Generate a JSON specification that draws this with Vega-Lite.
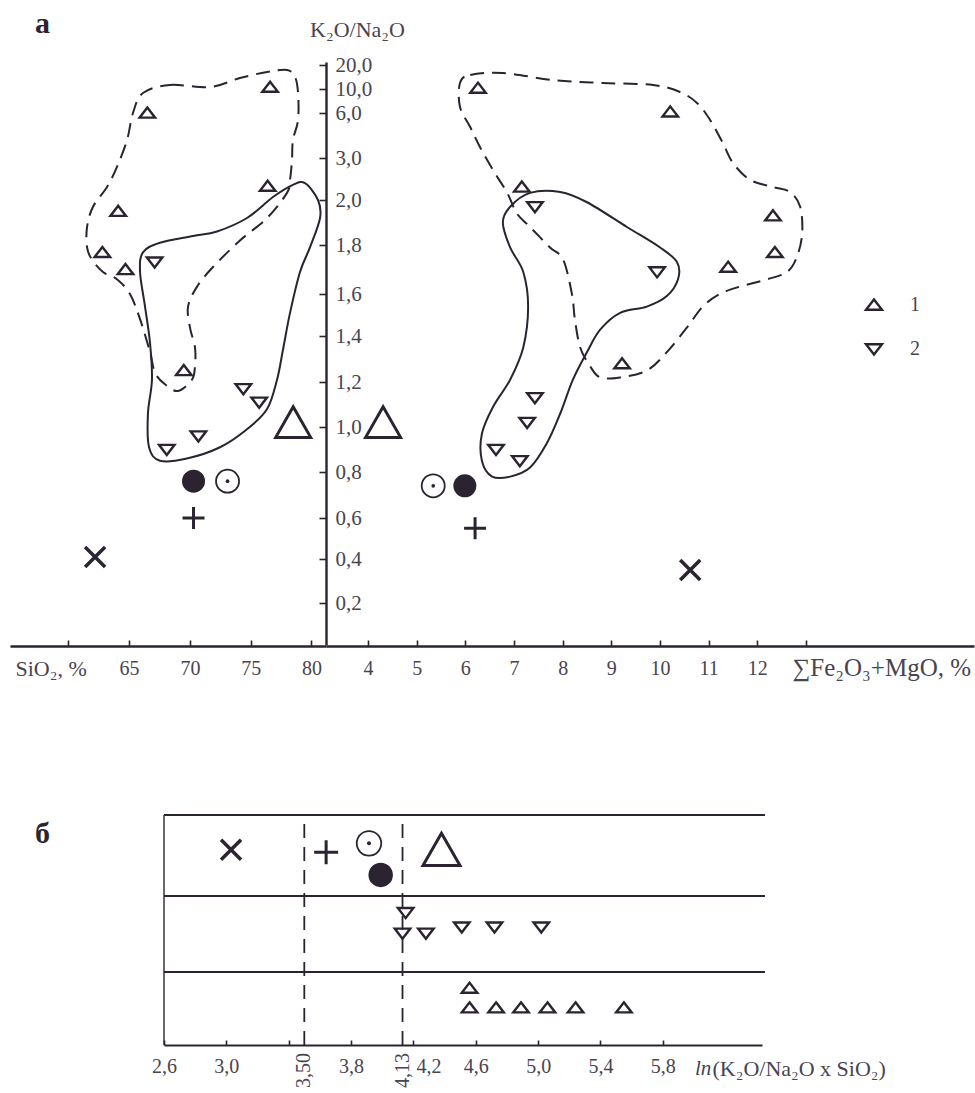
{
  "$schema": "https://vega.github.io/schema/vega-lite/v6.json",
  "width": 975,
  "height": 1093,
  "autosize": {"type": "none"},
  "padding": 0,
  "background": "#ffffff",
  "config": {
    "view": {"stroke": null},
    "font": "Liberation Serif",
    "axis": {
      "grid": false,
      "domainColor": "#2b2430",
      "domainWidth": 2.4,
      "tickColor": "#2b2430",
      "tickWidth": 1.6,
      "labelColor": "#4a4450",
      "labelFont": "Liberation Serif",
      "labelFontSize": 20,
      "titleColor": "#4a4450",
      "titleFont": "Liberation Serif",
      "titleFontSize": 22,
      "titleFontWeight": "normal",
      "labelFlush": false,
      "labelOverlap": false
    },
    "point": {"opacity": 1, "color": "#2b2430", "filled": false, "strokeWidth": 2.4},
    "line": {"color": "#2b2430", "strokeWidth": 2},
    "rule": {"color": "#2b2430", "strokeWidth": 2},
    "text": {"color": "#2b2430", "font": "Liberation Serif"}
  },
  "layer": [
    {
      "data": {
        "values": [
          {"kind": "tri", "series": "1", "x": 66.5, "y": 6.0},
          {"kind": "tri", "series": "1", "x": 76.6, "y": 10.8},
          {"kind": "tri", "series": "1", "x": 76.4, "y": 2.33},
          {"kind": "tri", "series": "1", "x": 64.1, "y": 1.95},
          {"kind": "tri", "series": "1", "x": 62.8, "y": 1.77},
          {"kind": "tri", "series": "1", "x": 64.7, "y": 1.70},
          {"kind": "tri", "series": "1", "x": 69.5, "y": 1.25},
          {"kind": "tri", "series": "2", "x": 67.1, "y": 1.73},
          {"kind": "tri", "series": "2", "x": 74.4, "y": 1.17},
          {"kind": "tri", "series": "2", "x": 75.7, "y": 1.11},
          {"kind": "tri", "series": "2", "x": 70.7, "y": 0.96},
          {"kind": "tri", "series": "2", "x": 68.1, "y": 0.90},
          {"kind": "big", "x": 78.5, "y": 1.02},
          {"kind": "dot", "x": 70.3, "y": 0.76},
          {"kind": "odot", "x": 73.1, "y": 0.76},
          {"kind": "plus", "x": 70.3, "y": 0.60},
          {"kind": "cross", "x": 62.2, "y": 0.41},
          {"kind": "letter", "x": 57.26, "y": 33.3, "t": "а"},
          {"c": "d", "i": 1, "x": 66.14, "y": 9.33},
          {"c": "d", "i": 2, "x": 68.36, "y": 11.67},
          {"c": "d", "i": 3, "x": 71.66, "y": 10.83},
          {"c": "d", "i": 4, "x": 74.12, "y": 14.58},
          {"c": "d", "i": 5, "x": 76.35, "y": 17.08},
          {"c": "d", "i": 6, "x": 77.99, "y": 17.92},
          {"c": "d", "i": 7, "x": 78.65, "y": 15.0},
          {"c": "d", "i": 8, "x": 78.9, "y": 9.33},
          {"c": "d", "i": 9, "x": 78.9, "y": 5.53},
          {"c": "d", "i": 10, "x": 78.48, "y": 4.2},
          {"c": "d", "i": 11, "x": 78.4, "y": 2.95},
          {"c": "d", "i": 12, "x": 78.24, "y": 2.48},
          {"c": "d", "i": 13, "x": 77.99, "y": 2.17},
          {"c": "d", "i": 14, "x": 76.35, "y": 1.92},
          {"c": "d", "i": 15, "x": 74.12, "y": 1.82},
          {"c": "d", "i": 16, "x": 71.9, "y": 1.71},
          {"c": "d", "i": 17, "x": 70.59, "y": 1.63},
          {"c": "d", "i": 18, "x": 69.85, "y": 1.54},
          {"c": "d", "i": 19, "x": 70.01, "y": 1.44},
          {"c": "d", "i": 20, "x": 70.42, "y": 1.35},
          {"c": "d", "i": 21, "x": 70.42, "y": 1.27},
          {"c": "d", "i": 22, "x": 70.17, "y": 1.21},
          {"c": "d", "i": 23, "x": 69.02, "y": 1.16},
          {"c": "d", "i": 24, "x": 67.95, "y": 1.19},
          {"c": "d", "i": 25, "x": 67.13, "y": 1.24},
          {"c": "d", "i": 26, "x": 66.72, "y": 1.33},
          {"c": "d", "i": 27, "x": 65.9, "y": 1.48},
          {"c": "d", "i": 28, "x": 65.07, "y": 1.6},
          {"c": "d", "i": 29, "x": 64.0, "y": 1.66},
          {"c": "d", "i": 30, "x": 62.85, "y": 1.69},
          {"c": "d", "i": 31, "x": 61.95, "y": 1.74},
          {"c": "d", "i": 32, "x": 61.54, "y": 1.79},
          {"c": "d", "i": 33, "x": 61.54, "y": 1.88},
          {"c": "d", "i": 34, "x": 62.03, "y": 1.97},
          {"c": "d", "i": 35, "x": 63.18, "y": 2.31},
          {"c": "d", "i": 36, "x": 64.0, "y": 2.79},
          {"c": "d", "i": 37, "x": 64.83, "y": 4.2},
          {"c": "d", "i": 38, "x": 65.32, "y": 6.0},
          {"c": "s", "i": 1, "x": 79.47, "y": 2.4},
          {"c": "s", "i": 2, "x": 80.54, "y": 2.0},
          {"c": "s", "i": 3, "x": 80.71, "y": 1.92},
          {"c": "s", "i": 4, "x": 79.88, "y": 1.79},
          {"c": "s", "i": 5, "x": 79.06, "y": 1.69},
          {"c": "s", "i": 6, "x": 78.24, "y": 1.51},
          {"c": "s", "i": 7, "x": 77.66, "y": 1.34},
          {"c": "s", "i": 8, "x": 77.17, "y": 1.21},
          {"c": "s", "i": 9, "x": 76.35, "y": 1.08},
          {"c": "s", "i": 10, "x": 74.7, "y": 0.99},
          {"c": "s", "i": 11, "x": 72.48, "y": 0.91},
          {"c": "s", "i": 12, "x": 69.76, "y": 0.86},
          {"c": "s", "i": 13, "x": 67.54, "y": 0.85},
          {"c": "s", "i": 14, "x": 66.64, "y": 0.91},
          {"c": "s", "i": 15, "x": 66.55, "y": 1.06},
          {"c": "s", "i": 16, "x": 66.88, "y": 1.21},
          {"c": "s", "i": 17, "x": 66.72, "y": 1.37},
          {"c": "s", "i": 18, "x": 66.31, "y": 1.54},
          {"c": "s", "i": 19, "x": 65.9, "y": 1.69},
          {"c": "s", "i": 20, "x": 66.14, "y": 1.77},
          {"c": "s", "i": 21, "x": 67.54, "y": 1.81},
          {"c": "s", "i": 22, "x": 70.26, "y": 1.84},
          {"c": "s", "i": 23, "x": 72.23, "y": 1.86},
          {"c": "s", "i": 24, "x": 74.7, "y": 1.92},
          {"c": "s", "i": 25, "x": 76.84, "y": 2.07},
          {"c": "s", "i": 26, "x": 78.48, "y": 2.36}
        ]
      },
      "encoding": {
        "x": {
          "field": "x", "type": "quantitative",
          "scale": {"domain": [55.2, 81.2], "range": [10, 326], "nice": false, "zero": false},
          "axis": {
            "orient": "bottom", "offset": -447,
            "values": [60, 65, 70, 75, 80], "format": "d",
            "labelExpr": "datum.value == 60 ? '' : datum.label",
            "tickSize": -6, "labelPadding": 18,
            "title": "SiO₂, %", "titleX": 15, "titleY": 29,
            "titleAlign": "left", "titleBaseline": "alphabetic"
          }
        },
        "y": {
          "field": "y", "type": "quantitative",
          "scale": {
            "domain": [0, 0.2, 0.4, 0.6, 0.8, 1.0, 1.2, 1.4, 1.6, 1.8, 2.0, 3, 6, 10, 20, 21.25],
            "range": [645, 603, 559, 518, 472, 427, 382, 336, 294, 245, 200, 158, 113, 89, 65, 62],
            "nice": false, "zero": false
          },
          "axis": {
            "orient": "right", "offset": -649,
            "values": [0.2, 0.4, 0.6, 0.8, 1.0, 1.2, 1.4, 1.6, 1.8, 2.0, 3, 6, 10, 20],
            "labelExpr": "replace(format(datum.value, '.1f'), '.', ',')",
            "tickSize": -7, "labelPadding": 16, "labelFontSize": 21,
            "labelAlign": "left", "labelBaseline": "middle",
            "title": "K₂O/Na₂O", "titleAngle": 0, "titleX": 31, "titleY": 36,
            "titleAlign": "center", "titleBaseline": "alphabetic"
          }
        }
      },
      "layer": [
        {
          "transform": [{"filter": "datum.c == 'd'"}],
          "mark": {"type": "line", "interpolate": "cardinal-closed", "strokeDash": [14, 8]},
          "encoding": {"order": {"field": "i", "type": "quantitative"}}
        },
        {
          "transform": [{"filter": "datum.c == 's'"}],
          "mark": {"type": "line", "interpolate": "cardinal-closed"},
          "encoding": {"order": {"field": "i", "type": "quantitative"}}
        },
        {
          "transform": [{"filter": "datum.kind == 'tri'"}],
          "mark": {"type": "point", "size": 240},
          "encoding": {
            "shape": {
              "field": "series", "type": "nominal",
              "scale": {"domain": ["1", "2"], "range": ["M0,-0.7L1,0.6L-1,0.6Z", "M-1,-0.6L1,-0.6L0,0.7Z"]},
              "legend": {
                "orient": "none", "legendX": 864, "legendY": 295, "title": null,
                "padding": 0, "rowPadding": 24, "symbolSize": 256,
                "symbolStrokeWidth": 2.6, "symbolStrokeColor": "#2b2430", "symbolFillColor": "transparent",
                "labelFont": "Liberation Serif", "labelFontSize": 20, "labelColor": "#4a4450", "labelOffset": 26
              }
            }
          }
        },
        {
          "transform": [{"filter": "datum.kind == 'big'"}],
          "mark": {"type": "point", "shape": "M0,-0.9L1,0.85L-1,0.85Z", "size": 1225, "strokeWidth": 3}
        },
        {
          "transform": [{"filter": "datum.kind == 'dot'"}],
          "mark": {"type": "point", "shape": "circle", "filled": true, "size": 530}
        },
        {
          "transform": [{"filter": "datum.kind == 'odot'"}],
          "mark": {"type": "point", "shape": "circle", "size": 530, "strokeWidth": 1.8}
        },
        {
          "transform": [{"filter": "datum.kind == 'odot'"}],
          "mark": {"type": "point", "shape": "circle", "filled": true, "size": 14}
        },
        {
          "transform": [{"filter": "datum.kind == 'plus'"}],
          "mark": {"type": "point", "shape": "M-1,0L1,0M0,-1L0,1", "size": 484, "strokeWidth": 3}
        },
        {
          "transform": [{"filter": "datum.kind == 'cross'"}],
          "mark": {"type": "point", "shape": "M-1,-1L1,1M-1,1L1,-1", "size": 400, "strokeWidth": 3.5}
        },
        {
          "transform": [{"filter": "datum.kind == 'letter'"}],
          "mark": {"type": "text", "fontSize": 30, "fontWeight": "bold", "align": "left", "baseline": "alphabetic"},
          "encoding": {"text": {"field": "t"}}
        }
      ]
    },
    {
      "data": {
        "values": [
          {"kind": "tri", "series": "1", "x": 6.26, "y": 10.4},
          {"kind": "tri", "series": "1", "x": 10.21, "y": 6.2},
          {"kind": "tri", "series": "1", "x": 7.16, "y": 2.31},
          {"kind": "tri", "series": "1", "x": 12.32, "y": 1.93},
          {"kind": "tri", "series": "1", "x": 12.36, "y": 1.77},
          {"kind": "tri", "series": "1", "x": 11.4, "y": 1.71},
          {"kind": "tri", "series": "1", "x": 9.22, "y": 1.28},
          {"kind": "tri", "series": "2", "x": 7.43, "y": 1.97},
          {"kind": "tri", "series": "2", "x": 9.94, "y": 1.69},
          {"kind": "tri", "series": "2", "x": 7.43, "y": 1.13},
          {"kind": "tri", "series": "2", "x": 7.27, "y": 1.02},
          {"kind": "tri", "series": "2", "x": 6.63, "y": 0.9},
          {"kind": "tri", "series": "2", "x": 7.12, "y": 0.85},
          {"kind": "big", "x": 4.31, "y": 1.02},
          {"kind": "odot", "x": 5.34, "y": 0.74},
          {"kind": "dot", "x": 5.99, "y": 0.74},
          {"kind": "plus", "x": 6.2, "y": 0.55},
          {"kind": "cross", "x": 10.62, "y": 0.35},
          {"c": "d", "i": 1, "x": 5.89, "y": 12.5},
          {"c": "d", "i": 2, "x": 6.1, "y": 15.83},
          {"c": "d", "i": 3, "x": 6.77, "y": 16.67},
          {"c": "d", "i": 4, "x": 7.8, "y": 13.75},
          {"c": "d", "i": 5, "x": 8.83, "y": 12.5},
          {"c": "d", "i": 6, "x": 9.86, "y": 11.67},
          {"c": "d", "i": 7, "x": 10.41, "y": 9.5},
          {"c": "d", "i": 8, "x": 10.76, "y": 7.67},
          {"c": "d", "i": 9, "x": 11.03, "y": 5.53},
          {"c": "d", "i": 10, "x": 11.29, "y": 4.0},
          {"c": "d", "i": 11, "x": 11.5, "y": 2.88},
          {"c": "d", "i": 12, "x": 11.85, "y": 2.48},
          {"c": "d", "i": 13, "x": 12.32, "y": 2.31},
          {"c": "d", "i": 14, "x": 12.67, "y": 2.19},
          {"c": "d", "i": 15, "x": 12.88, "y": 1.97},
          {"c": "d", "i": 16, "x": 12.92, "y": 1.85},
          {"c": "d", "i": 17, "x": 12.81, "y": 1.75},
          {"c": "d", "i": 18, "x": 12.61, "y": 1.69},
          {"c": "d", "i": 19, "x": 12.2, "y": 1.66},
          {"c": "d", "i": 20, "x": 11.64, "y": 1.63},
          {"c": "d", "i": 21, "x": 11.23, "y": 1.6},
          {"c": "d", "i": 22, "x": 10.88, "y": 1.54},
          {"c": "d", "i": 23, "x": 10.55, "y": 1.44},
          {"c": "d", "i": 24, "x": 10.14, "y": 1.33},
          {"c": "d", "i": 25, "x": 9.73, "y": 1.25},
          {"c": "d", "i": 26, "x": 9.18, "y": 1.22},
          {"c": "d", "i": 27, "x": 8.77, "y": 1.22},
          {"c": "d", "i": 28, "x": 8.56, "y": 1.27},
          {"c": "d", "i": 29, "x": 8.36, "y": 1.35},
          {"c": "d", "i": 30, "x": 8.25, "y": 1.48},
          {"c": "d", "i": 31, "x": 8.19, "y": 1.6},
          {"c": "d", "i": 32, "x": 8.01, "y": 1.74},
          {"c": "d", "i": 33, "x": 7.74, "y": 1.79},
          {"c": "d", "i": 34, "x": 7.33, "y": 1.88},
          {"c": "d", "i": 35, "x": 7.06, "y": 1.94},
          {"c": "d", "i": 36, "x": 6.86, "y": 2.17},
          {"c": "d", "i": 37, "x": 6.57, "y": 2.71},
          {"c": "d", "i": 38, "x": 6.3, "y": 3.73},
          {"c": "d", "i": 39, "x": 6.1, "y": 5.07},
          {"c": "d", "i": 40, "x": 5.89, "y": 7.0},
          {"c": "s", "i": 1, "x": 7.33, "y": 2.17},
          {"c": "s", "i": 2, "x": 7.95, "y": 2.19},
          {"c": "s", "i": 3, "x": 8.5, "y": 1.99},
          {"c": "s", "i": 4, "x": 9.32, "y": 1.88},
          {"c": "s", "i": 5, "x": 10.0, "y": 1.79},
          {"c": "s", "i": 6, "x": 10.35, "y": 1.73},
          {"c": "s", "i": 7, "x": 10.37, "y": 1.66},
          {"c": "s", "i": 8, "x": 10.14, "y": 1.59},
          {"c": "s", "i": 9, "x": 9.73, "y": 1.54},
          {"c": "s", "i": 10, "x": 9.18, "y": 1.51},
          {"c": "s", "i": 11, "x": 8.77, "y": 1.43},
          {"c": "s", "i": 12, "x": 8.5, "y": 1.33},
          {"c": "s", "i": 13, "x": 8.21, "y": 1.21},
          {"c": "s", "i": 14, "x": 7.95, "y": 1.06},
          {"c": "s", "i": 15, "x": 7.68, "y": 0.93},
          {"c": "s", "i": 16, "x": 7.33, "y": 0.82},
          {"c": "s", "i": 17, "x": 6.92, "y": 0.78},
          {"c": "s", "i": 18, "x": 6.55, "y": 0.78},
          {"c": "s", "i": 19, "x": 6.34, "y": 0.85},
          {"c": "s", "i": 20, "x": 6.34, "y": 0.97},
          {"c": "s", "i": 21, "x": 6.57, "y": 1.09},
          {"c": "s", "i": 22, "x": 6.92, "y": 1.21},
          {"c": "s", "i": 23, "x": 7.19, "y": 1.35},
          {"c": "s", "i": 24, "x": 7.29, "y": 1.54},
          {"c": "s", "i": 25, "x": 7.19, "y": 1.69},
          {"c": "s", "i": 26, "x": 6.92, "y": 1.79},
          {"c": "s", "i": 27, "x": 6.77, "y": 1.9},
          {"c": "s", "i": 28, "x": 6.92, "y": 1.97}
        ]
      },
      "encoding": {
        "x": {
          "field": "x", "type": "quantitative",
          "scale": {"domain": [3.137, 16.451], "range": [326, 974], "nice": false, "zero": false},
          "axis": {
            "orient": "bottom", "offset": -447,
            "values": [4, 5, 6, 7, 8, 9, 10, 11, 12, 13], "format": "d",
            "labelExpr": "datum.value == 13 ? '' : datum.label",
            "tickSize": -6, "labelPadding": 18,
            "title": "∑Fe₂O₃+MgO, %", "titleX": 792, "titleY": 29, "titleFontSize": 25,
            "titleAlign": "left", "titleBaseline": "alphabetic"
          }
        },
        "y": {
          "field": "y", "type": "quantitative",
          "scale": {
            "domain": [0, 0.2, 0.4, 0.6, 0.8, 1.0, 1.2, 1.4, 1.6, 1.8, 2.0, 3, 6, 10, 20, 21.25],
            "range": [645, 603, 559, 518, 472, 427, 382, 336, 294, 245, 200, 158, 113, 89, 65, 62],
            "nice": false, "zero": false
          },
          "axis": null
        }
      },
      "layer": [
        {
          "transform": [{"filter": "datum.c == 'd'"}],
          "mark": {"type": "line", "interpolate": "cardinal-closed", "strokeDash": [14, 8]},
          "encoding": {"order": {"field": "i", "type": "quantitative"}}
        },
        {
          "transform": [{"filter": "datum.c == 's'"}],
          "mark": {"type": "line", "interpolate": "cardinal-closed"},
          "encoding": {"order": {"field": "i", "type": "quantitative"}}
        },
        {
          "transform": [{"filter": "datum.kind == 'tri'"}],
          "mark": {"type": "point", "size": 240},
          "encoding": {
            "shape": {
              "field": "series", "type": "nominal",
              "scale": {"domain": ["1", "2"], "range": ["M0,-0.7L1,0.6L-1,0.6Z", "M-1,-0.6L1,-0.6L0,0.7Z"]},
              "legend": null
            }
          }
        },
        {
          "transform": [{"filter": "datum.kind == 'big'"}],
          "mark": {"type": "point", "shape": "M0,-0.9L1,0.85L-1,0.85Z", "size": 1225, "strokeWidth": 3}
        },
        {
          "transform": [{"filter": "datum.kind == 'dot'"}],
          "mark": {"type": "point", "shape": "circle", "filled": true, "size": 530}
        },
        {
          "transform": [{"filter": "datum.kind == 'odot'"}],
          "mark": {"type": "point", "shape": "circle", "size": 530, "strokeWidth": 1.8}
        },
        {
          "transform": [{"filter": "datum.kind == 'odot'"}],
          "mark": {"type": "point", "shape": "circle", "filled": true, "size": 14}
        },
        {
          "transform": [{"filter": "datum.kind == 'plus'"}],
          "mark": {"type": "point", "shape": "M-1,0L1,0M0,-1L0,1", "size": 484, "strokeWidth": 3}
        },
        {
          "transform": [{"filter": "datum.kind == 'cross'"}],
          "mark": {"type": "point", "shape": "M-1,-1L1,1M-1,1L1,-1", "size": 400, "strokeWidth": 3.5}
        }
      ]
    },
    {
      "data": {
        "values": [
          {"kind": "cross", "x": 3.03, "y": 2.57},
          {"kind": "plus", "x": 3.64, "y": 2.54},
          {"kind": "odot", "x": 3.915, "y": 2.65},
          {"kind": "dot", "x": 3.99, "y": 2.26},
          {"kind": "big", "x": 4.38, "y": 2.57},
          {"kind": "tri", "series": "2", "x": 4.15, "y": 1.78},
          {"kind": "tri", "series": "2", "x": 4.13, "y": 1.51},
          {"kind": "tri", "series": "2", "x": 4.28, "y": 1.51},
          {"kind": "tri", "series": "2", "x": 4.51, "y": 1.59},
          {"kind": "tri", "series": "2", "x": 4.72, "y": 1.59},
          {"kind": "tri", "series": "2", "x": 5.02, "y": 1.59},
          {"kind": "tri", "series": "1", "x": 4.56, "y": 0.78},
          {"kind": "tri", "series": "1", "x": 4.56, "y": 0.51},
          {"kind": "tri", "series": "1", "x": 4.73, "y": 0.51},
          {"kind": "tri", "series": "1", "x": 4.89, "y": 0.51},
          {"kind": "tri", "series": "1", "x": 5.06, "y": 0.51},
          {"kind": "tri", "series": "1", "x": 5.24, "y": 0.51},
          {"kind": "tri", "series": "1", "x": 5.55, "y": 0.51},
          {"kind": "hline", "x": 2.6, "x2": 6.455, "y": 1},
          {"kind": "hline", "x": 2.6, "x2": 6.455, "y": 2},
          {"kind": "hline", "x": 2.6, "x2": 6.455, "y": 3},
          {"kind": "vline", "x": 2.6, "y": 0, "y2": 3},
          {"kind": "cut", "x": 3.5, "y": 0, "y2": 3, "t": "3,50"},
          {"kind": "cut", "x": 4.13, "y": 0, "y2": 3, "t": "4,13"},
          {"kind": "letter", "x": 1.773, "y": 2.654, "t": "б"},
          {"kind": "ln", "x": 6.006, "y": 0, "t": "ln"}
        ]
      },
      "encoding": {
        "x": {
          "field": "x", "type": "quantitative",
          "scale": {"domain": [2.6, 6.436], "range": [164, 762], "nice": false, "zero": false},
          "axis": {
            "orient": "bottom", "offset": -48,
            "values": [2.6, 3.0, 3.4, 3.8, 4.2, 4.6, 5.0, 5.4, 5.8],
            "labelExpr": "datum.value == 3.4 ? '' : replace(format(datum.value, '.1f'), '.', ',')",
            "labelOffset": {"condition": {"test": "datum.value == 4.2", "value": 15}, "value": 0},
            "tickSize": -5, "labelPadding": 16, "domainWidth": 2,
            "title": "(K₂O/Na₂O x SiO₂)", "titleX": 712, "titleY": 30,
            "titleAlign": "left", "titleBaseline": "alphabetic"
          }
        },
        "y": {
          "field": "y", "type": "quantitative",
          "scale": {"domain": [0, 1, 2, 3], "range": [1045, 972, 896, 815], "nice": false, "zero": false},
          "axis": null
        }
      },
      "layer": [
        {
          "transform": [{"filter": "datum.kind == 'hline'"}],
          "mark": {"type": "rule", "strokeWidth": 2},
          "encoding": {"x2": {"field": "x2"}}
        },
        {
          "transform": [{"filter": "datum.kind == 'vline'"}],
          "mark": {"type": "rule", "strokeWidth": 1.4},
          "encoding": {"y2": {"field": "y2"}}
        },
        {
          "transform": [{"filter": "datum.kind == 'cut'"}],
          "mark": {"type": "rule", "strokeWidth": 1.8, "strokeDash": [14, 9]},
          "encoding": {"y2": {"field": "y2"}}
        },
        {
          "transform": [{"filter": "datum.kind == 'cut'"}],
          "mark": {"type": "text", "angle": 270, "align": "right", "baseline": "middle", "dx": -8, "fontSize": 20, "color": "#4a4450"},
          "encoding": {"text": {"field": "t"}}
        },
        {
          "transform": [{"filter": "datum.kind == 'tri'"}],
          "mark": {"type": "point", "size": 240},
          "encoding": {
            "shape": {
              "field": "series", "type": "nominal",
              "scale": {"domain": ["1", "2"], "range": ["M0,-0.7L1,0.6L-1,0.6Z", "M-1,-0.6L1,-0.6L0,0.7Z"]},
              "legend": null
            }
          }
        },
        {
          "transform": [{"filter": "datum.kind == 'big'"}],
          "mark": {"type": "point", "shape": "M0,-0.9L1,0.85L-1,0.85Z", "size": 1369, "strokeWidth": 3}
        },
        {
          "transform": [{"filter": "datum.kind == 'dot'"}],
          "mark": {"type": "point", "shape": "circle", "filled": true, "size": 600}
        },
        {
          "transform": [{"filter": "datum.kind == 'odot'"}],
          "mark": {"type": "point", "shape": "circle", "size": 600, "strokeWidth": 1.8}
        },
        {
          "transform": [{"filter": "datum.kind == 'odot'"}],
          "mark": {"type": "point", "shape": "circle", "filled": true, "size": 16}
        },
        {
          "transform": [{"filter": "datum.kind == 'plus'"}],
          "mark": {"type": "point", "shape": "M-1,0L1,0M0,-1L0,1", "size": 576, "strokeWidth": 3}
        },
        {
          "transform": [{"filter": "datum.kind == 'cross'"}],
          "mark": {"type": "point", "shape": "M-1,-1L1,1M-1,1L1,-1", "size": 400, "strokeWidth": 3.5}
        },
        {
          "transform": [{"filter": "datum.kind == 'letter'"}],
          "mark": {"type": "text", "fontSize": 30, "fontWeight": "bold", "align": "left", "baseline": "alphabetic"},
          "encoding": {"text": {"field": "t"}}
        },
        {
          "transform": [{"filter": "datum.kind == 'ln'"}],
          "mark": {"type": "text", "fontSize": 21, "fontStyle": "italic", "align": "left", "baseline": "alphabetic", "dy": 30, "color": "#4a4450"},
          "encoding": {"text": {"field": "t"}}
        }
      ]
    }
  ],
  "resolve": {"scale": {"x": "independent", "y": "independent"}}
}
